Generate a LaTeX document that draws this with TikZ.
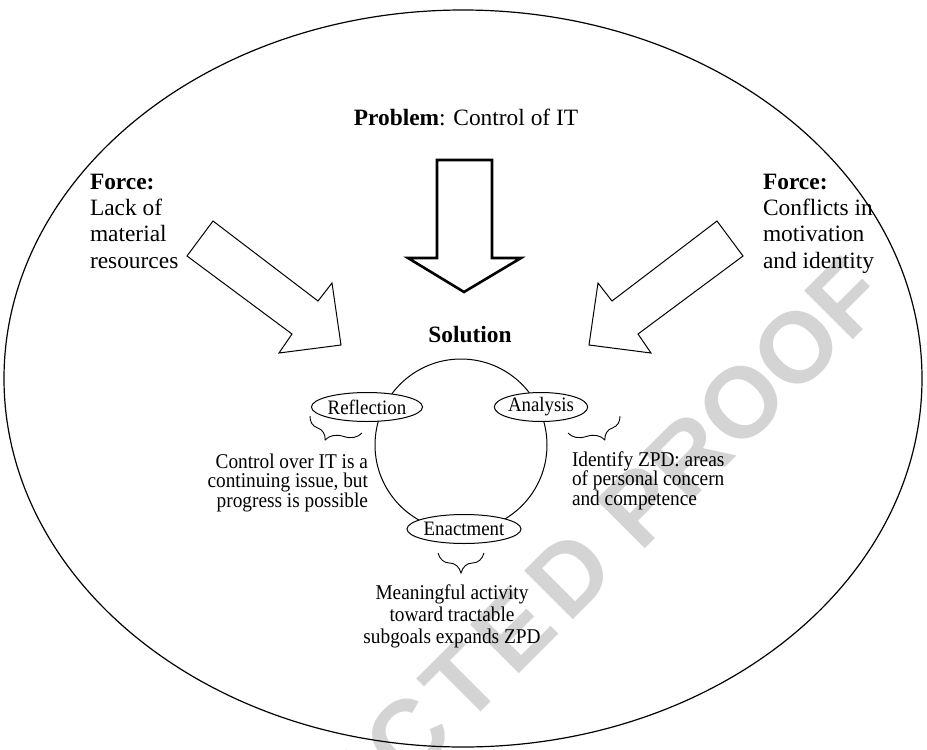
\documentclass[tikz,border=0pt]{standalone}
\usepackage{fontspec}
\setmainfont{Liberation Serif}
\newfontfamily\condfont{Liberation Serif}[FakeStretch=0.92]
\newfontfamily\wmfont{Liberation Sans}
\newfontfamily\wmfontwide{Liberation Sans}[LetterSpace=10]
\usetikzlibrary{shapes.geometric,decorations.pathreplacing}
\tikzset{
  bigtxt/.style={inner sep=0pt, outer sep=0pt, font=\fontsize{23.4}{26.3}\selectfont},
  smalltxt/.style={inner sep=0pt, outer sep=0pt, font=\condfont\fontsize{21}{19.5}\selectfont},
  cyc/.style={ellipse, draw, line width=1pt, fill=white, inner sep=0pt, font=\condfont\fontsize{20.5}{20.5}\selectfont},
  blockarrow/.style={draw, line width=1pt, line join=miter},
  bracemark/.style={decorate, line width=0.9pt, decoration={brace, mirror, amplitude=#1}},
  watermark/.style={inner sep=0pt, outer sep=0pt, rotate=45, text=black!17}
}
\begin{document}
\begin{tikzpicture}[x=1pt, y=-1pt]
\useasboundingbox (0,0) rectangle (927,750);
% watermark
\node[watermark, anchor=base west, font=\wmfont\bfseries\fontsize{100}{100}\selectfont] (wm2) at (640,553) {PROOF};
\node[watermark, anchor=base east, font=\wmfontwide\bfseries\fontsize{100}{100}\selectfont] (wm1) at (620,573) {UNCORRECTED};
% outer ellipse
\draw[line width=1.2pt] (463,378.5) ellipse [x radius=459, y radius=368.5];
% titles
\node[bigtxt, anchor=base] (prob) at (466,125) {\textbf{Problem}: Control of IT};
\node[bigtxt, anchor=base] (sol) at (470,342) {\textbf{Solution}};
\node[bigtxt, anchor=base west, align=left] (forceL) at (90,268) {\textbf{Force:}\\Lack of\\material\\resources};
\node[bigtxt, anchor=base west, align=left] (forceR) at (763,268) {\textbf{Force:}\\Conflicts in\\motivation\\and identity};
% block arrows
\draw[line width=2.6pt, line join=miter] (437,160) -- (492,160) -- (492,258) -- (521,258) -- (464,292) -- (408,258) -- (437,258) -- cycle;
\draw[blockarrow] (213,221) -- (318,301) -- (332,283) -- (341,345) -- (279,353) -- (292,334) -- (187,256) -- cycle;
\draw[blockarrow] (717,221) -- (612,301) -- (598,283) -- (589,345) -- (651,353) -- (638,334) -- (743,256) -- cycle;
% cycle
\draw[line width=1pt] (461,445) circle [radius=86];
\node[cyc, minimum width=98pt, minimum height=29pt] (refl) at (367,407) {Reflection};
\node[cyc, minimum width=92pt, minimum height=29pt] (anal) at (541,407) {Analysis};
\node[cyc, minimum width=102pt, minimum height=29pt] (enact) at (464,529) {Enactment};
% braces
\draw[bracemark=18pt, decoration={aspect=0.4}] (310,416) -- (362,433);
\draw[bracemark=18pt, decoration={aspect=0.6}] (568,433) -- (620,416);
\draw[bracemark=20pt] (438,553) -- (484,553);
% brace labels
\node[smalltxt, anchor=base east, align=right] (lblR) at (368,507) {Control over IT is a\\continuing issue, but\\progress is possible};
\node[smalltxt, anchor=base west, align=left] (lblA) at (572,505) {Identify ZPD: areas\\of personal concern\\and competence};
\node[smalltxt, anchor=base, align=center, font=\condfont\fontsize{21}{22}\selectfont] (lblE) at (452,643) {Meaningful activity\\toward tractable\\subgoals expands ZPD};
\end{tikzpicture}
\end{document}
